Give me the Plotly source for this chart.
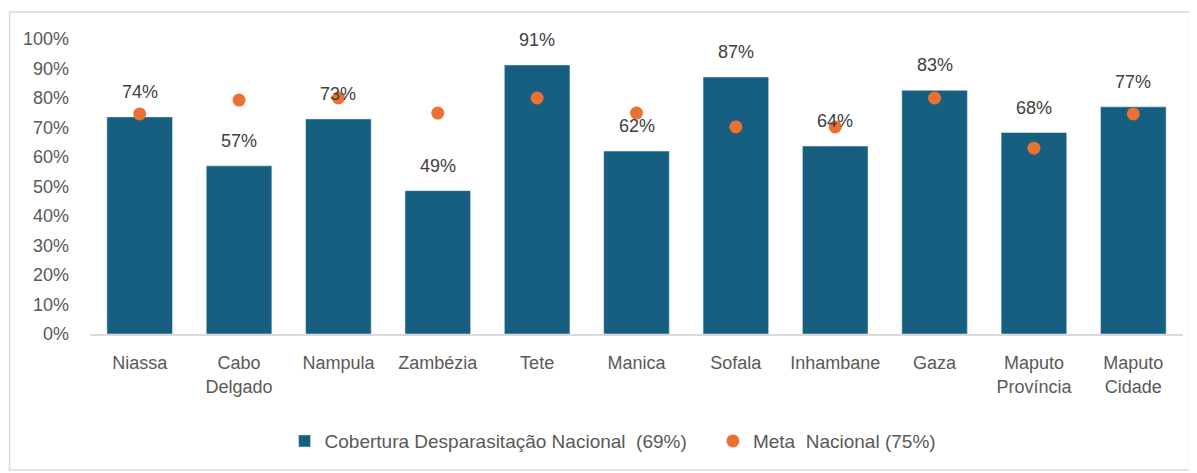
import plotly.graph_objects as go

categories = ["Niassa", "Cabo<br>Delgado", "Nampula", "Zambézia", "Tete", "Manica",
              "Sofala", "Inhambane", "Gaza", "Maputo<br>Província", "Maputo<br>Cidade"]
cobertura = [0.736, 0.570, 0.729, 0.486, 0.912, 0.620, 0.871, 0.637, 0.826, 0.683, 0.770]
meta = [0.746, 0.793, 0.800, 0.749, 0.800, 0.749, 0.702, 0.702, 0.800, 0.630, 0.746]
y_ticks = [i / 10 for i in range(11)]

BAR = "#165f80"
DOT = "#eb7133"
TXT = "#595959"
FONT = "Liberation Sans"

fig = go.Figure()
fig.add_trace(go.Bar(
    x=categories, y=cobertura, marker_color=BAR,
    name="Cobertura Desparasitação Nacional\u00a0\u00a0(69%)\u00a0\u00a0\u00a0\u00a0",
))
fig.add_trace(go.Scatter(
    x=categories, y=meta, mode="markers",
    marker=dict(color=DOT, size=13),
    name="Meta\u00a0\u00a0Nacional (75%)",
))

for c, v in zip(categories, cobertura):
    fig.add_annotation(x=c, y=v, text=f"{v:.0%}", showarrow=False,
                       yanchor="middle", yshift=25,
                       font=dict(family=FONT, size=18, color="#404040"))

fig.add_shape(type="rect", xref="paper", yref="paper",
              x0=-0.0736, x1=1.006, y0=-0.461, y1=1.0915,
              line=dict(color="#d9d9d9", width=1.5), fillcolor="rgba(0,0,0,0)", layer="below")

fig.update_layout(
    width=1189, height=465,
    margin=dict(l=81.5, r=13.5, t=31, b=139),
    paper_bgcolor="white", plot_bgcolor="white",
    bargap=0.34,
    font=dict(family=FONT, size=18, color=TXT),
    showlegend=True,
    legend=dict(orientation="h", x=0.178, xanchor="left", y=-0.363, yanchor="middle",
                font=dict(family=FONT, size=19, color=TXT), itemwidth=30,
                traceorder="normal"),
)
fig.update_xaxes(range=[-0.5, 10.5], automargin=False,
                 showline=True, linecolor="#d9d9d9", linewidth=1.5, showgrid=False,
                 ticks="", ticklabelstandoff=12, tickfont=dict(size=18, color=TXT))
fig.update_yaxes(range=[0, 1], tickvals=y_ticks, tickformat=".0%", showgrid=False,
                 automargin=False, zeroline=False, showline=False, ticks="",
                 ticklabelstandoff=20, tickfont=dict(size=18, color=TXT))

fig.write_html("out.html")
